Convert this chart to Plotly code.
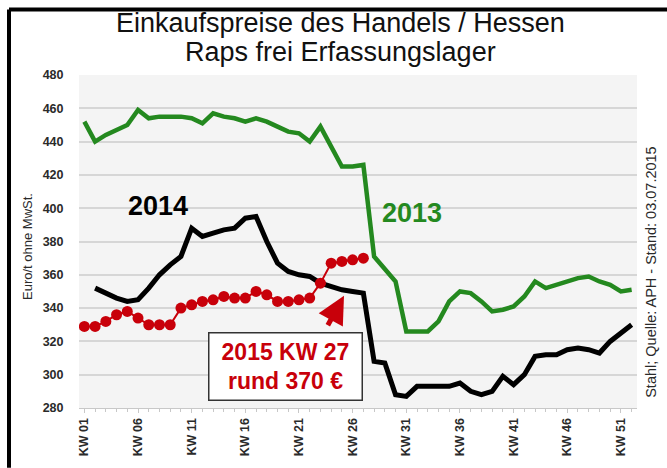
import plotly.graph_objects as go

weeks = list(range(1, 53))
tick_weeks = [1, 6, 11, 16, 21, 26, 31, 36, 41, 46, 51]
tick_labels = ["KW %02d" % w for w in tick_weeks]

y2013 = [452, 440, 444, 447, 450, 459, 454, 455, 455, 455, 454, 451, 457, 455, 454, 452,
         454, 452, 449, 446, 445, 440, 449, 437, 425, 425, 426, 371, 363, 356, 326, 326,
         326, 332, 344, 350, 349, 344, 338, 339, 341, 347, 356, 352, 354, 356, 358, 359,
         356, 354, 350, 351]
y2014 = [None, 352, 349, 346, 344, 345, 352, 360, 366, 371, 388, 383, 385, 387, 388, 394,
         395, 380, 367, 362, 360, 359, 355, 353, 351, 350, 349, 308, 307, 288, 287, 293,
         293, 293, 293, 295, 290, 288, 290, 299, 294, 300, 311, 312, 312, 315, 316, 315,
         313, 320, 325, 330]
y2015 = [329, 329, 332, 336, 338, 334, 330, 330, 330, 340, 342, 344, 345, 347, 346, 346,
         350, 348, 344, 344, 345, 346, 355, 367, 368, 369, 370]

FONT = "Liberation Sans, Arial, sans-serif"
GREEN = "#24891f"
RED = "#c8000a"

fig = go.Figure()
fig.add_trace(go.Scatter(x=weeks, y=y2013, mode="lines",
                         line=dict(color=GREEN, width=4.5), connectgaps=False))
fig.add_trace(go.Scatter(x=weeks, y=y2014, mode="lines",
                         line=dict(color="black", width=5), connectgaps=False))
fig.add_trace(go.Scatter(x=weeks[:len(y2015)], y=y2015, mode="lines+markers",
                         line=dict(color=RED, width=2),
                         marker=dict(color=RED, size=11)))

W, H = 667, 468
L, R, T, B = 79, 30, 75, 58
pw, ph = W - L - R, H - T - B

fig.update_layout(
    width=W, height=H,
    margin=dict(l=L, r=R, t=T, b=B),
    paper_bgcolor="white", plot_bgcolor="#f4f4f4",
    showlegend=False,
    font=dict(family=FONT, color="#222"),
)
fig.update_xaxes(
    range=[0.5, 52.5], tickmode="array", tickvals=tick_weeks,
    ticktext=["<b>%s</b>" % t for t in tick_labels],
    tickangle=-90, tickfont=dict(size=12.5, color="#2a2a2a"),
    showgrid=False, zeroline=False,
    showline=True, linecolor="#c8c8c8", linewidth=1,
    ticks="outside", ticklen=4, tickcolor="#c8c8c8",
    minor=dict(dtick=1, tick0=1, ticks="outside", ticklen=3, tickcolor="#c8c8c8"),
)
fig.update_yaxes(
    range=[280, 480], dtick=20, tickfont=dict(size=12.5, color="#2a2a2a"),
    tickvals=list(range(280, 481, 20)),
    ticktext=["<b>%d</b>" % v for v in range(280, 481, 20)],
    showgrid=True, gridcolor="#d6d6d6", gridwidth=1.5, zeroline=False,
    ticks="outside", ticklen=12, tickcolor="rgba(0,0,0,0)",
)

ann = []
ann.append(dict(text="Einkaufspreise des Handels / Hessen", x=340, y=23,
                showarrow=False, font=dict(size=27, color="#111")))
ann.append(dict(text="Raps frei Erfassungslager", x=340, y=52, showarrow=False,
                font=dict(size=27, color="#111")))
ann.append(dict(text="Euro/t ohne MwSt.", x=28, y=248, textangle=-90, showarrow=False,
                font=dict(size=13, color="#2a2a2a")))
ann.append(dict(text="<b>2014</b>", x=158, y=207, showarrow=False, font=dict(size=27, color="black")))
ann.append(dict(text="<b>2013</b>", x=412, y=214, showarrow=False, font=dict(size=27, color=GREEN)))
ann.append(dict(text="<b>2015 KW 27</b><br><b>rund 370 €</b>", x=285, y=368, showarrow=False,
                width=150, height=64, bgcolor="white", bordercolor="#333", borderwidth=1.5,
                font=dict(size=23, color=RED)))
ann.append(dict(text="Stahl; Quelle: APH - Stand: 03.07.2015", x=651, y=273, textangle=-90,
                showarrow=False, font=dict(size=14.5, color="#2a2a2a")))
ann.append(dict(text="", x=344, y=297, ax=327, ay=328, showarrow=True,
                arrowhead=2, arrowsize=1.1, arrowwidth=5, arrowcolor=RED))

out = []
for a in ann:
    px, py = a["x"], a["y"]
    a["x"] = (px - L) / pw
    a["y"] = 1 - (py - T) / ph
    a["xref"] = "paper"
    a["yref"] = "paper"
    if "ax" in a:
        a["ax"] = a["ax"] - px
        a["ay"] = a["ay"] - py
        a["axref"] = "pixel"
        a["ayref"] = "pixel"
    a.setdefault("xanchor", "center")
    a.setdefault("yanchor", "middle")
    out.append(a)
fig.update_layout(annotations=out)

# frame lines (left and top)
fig.add_shape(type="line", xref="paper", yref="paper",
              x0=(9 - L) / pw, x1=(9 - L) / pw, y0=1 - (9 - T) / ph, y1=1 - (470 - T) / ph,
              line=dict(color="black", width=4))
fig.add_shape(type="line", xref="paper", yref="paper",
              x0=(9 - L) / pw, x1=(670 - L) / pw, y0=1 - (9 - T) / ph, y1=1 - (9 - T) / ph,
              line=dict(color="black", width=4))

fig.write_html("out.html")
